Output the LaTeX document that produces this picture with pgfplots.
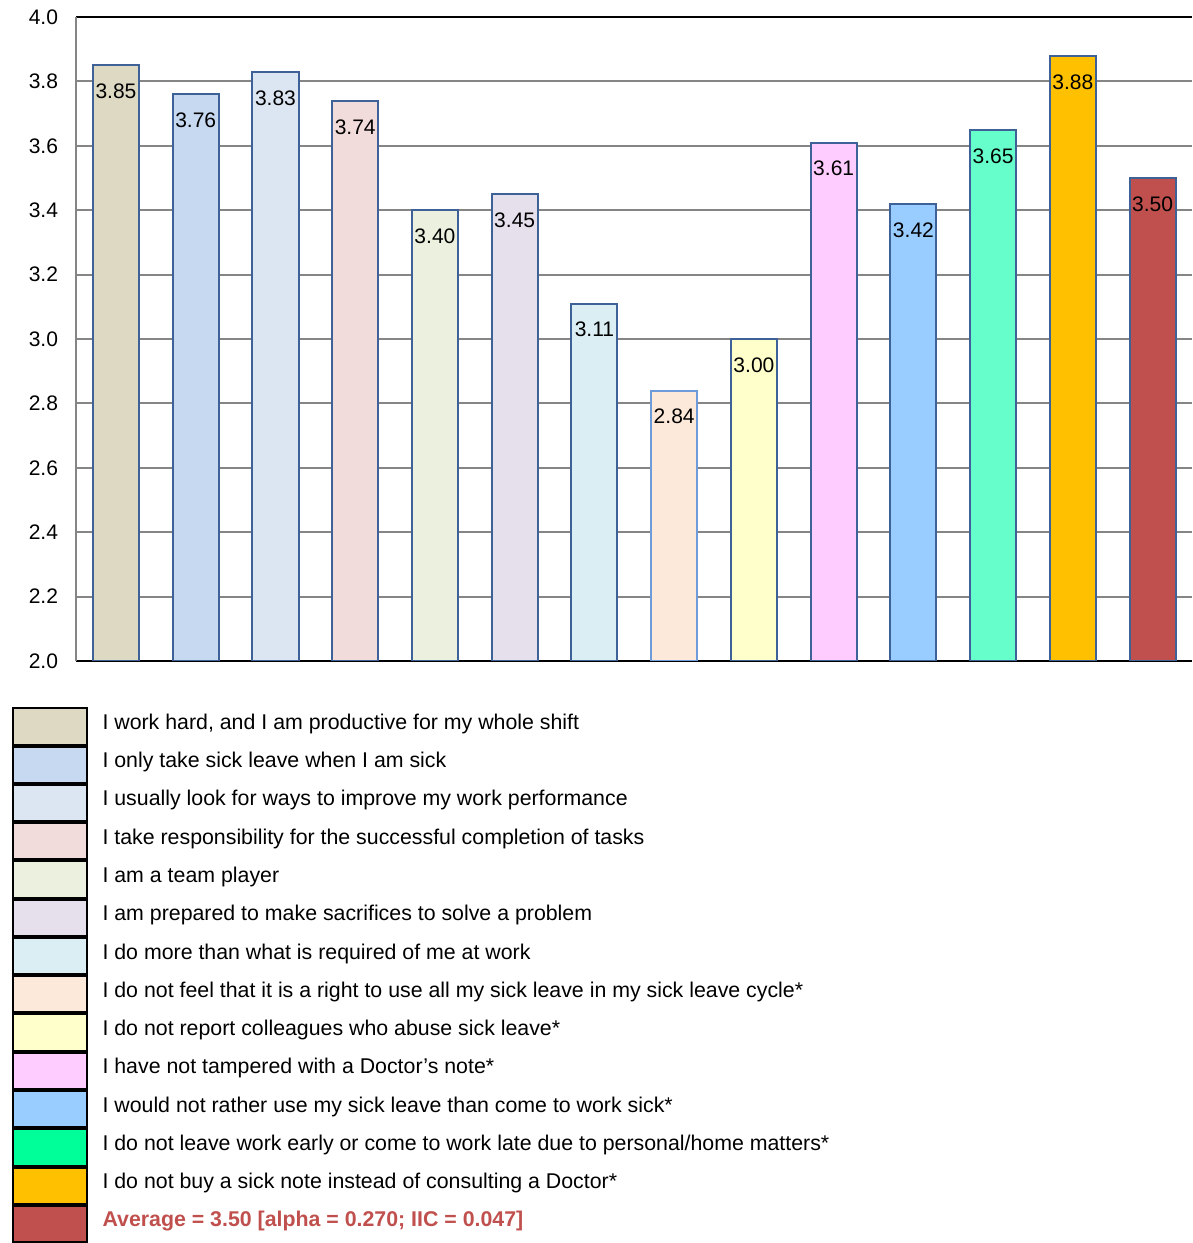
\documentclass[border=0pt]{standalone}
\usepackage{pgfplots}
\pgfplotsset{compat=1.18}
\usepackage{fontspec}
\setmainfont{Liberation Sans}
\definecolor{c1}{HTML}{DDD9C3}
\definecolor{c2}{HTML}{C6D9F1}
\definecolor{c3}{HTML}{DCE6F2}
\definecolor{c4}{HTML}{F2DCDB}
\definecolor{c5}{HTML}{EBF1DE}
\definecolor{c6}{HTML}{E6E0EC}
\definecolor{c7}{HTML}{DBEEF4}
\definecolor{c8}{HTML}{FDE9D9}
\definecolor{c9}{HTML}{FFFFCC}
\definecolor{c10}{HTML}{FFCCFF}
\definecolor{c11}{HTML}{99CCFF}
\definecolor{c12}{HTML}{66FFCC}
\definecolor{c12b}{HTML}{00FF99}
\definecolor{c13}{HTML}{FFC000}
\definecolor{c14}{HTML}{C0504D}
\definecolor{barblue}{HTML}{3E6197}
\definecolor{barlight}{HTML}{6E9BDA}
\definecolor{gridgray}{HTML}{858585}
\begin{document}
\begin{tikzpicture}
\begin{axis}[
  scale only axis, width=557pt, height=321.5pt,
  xmin=-0.5, xmax=13.49, ymin=2, ymax=4,
  ytick={2,2.2,2.4,2.6,2.8,3,3.2,3.4,3.6,3.8,4},
  /pgf/number format/assume math mode=true,
  yticklabel style={/pgf/number format/fixed,/pgf/number format/fixed zerofill,/pgf/number format/precision=1, xshift=-5.5pt},
  tick label style={font=\fontsize{10.5}{12}\selectfont},
  xtick=\empty,
  extra x ticks={-0.5}, extra x tick labels={},
  extra x tick style={grid=major, major grid style={gridgray, line width=1pt}},
  ymajorgrids, major grid style={gridgray, line width=1pt},
  major tick length=0pt,
  separate axis lines,
  x axis line style={black, line width=1pt},
  y axis line style={draw=none},
  ybar, bar width=23pt, bar shift=0pt,
  every axis plot/.append style={draw=barblue, line width=1pt},
  nodes near coords,
  nodes near coords style={font=\fontsize{10.5}{12}\selectfont, black, anchor=north, yshift=-5.5pt,
     /pgf/number format/fixed, /pgf/number format/fixed zerofill, /pgf/number format/precision=2},
  legend style={at={(0,0)}, anchor=north west, xshift=-32pt, yshift=-23pt,
     draw=none, fill=none, inner sep=0pt, row sep=0pt, column sep=7.5pt,
     font=\fontsize{10.65}{12}\selectfont,
     nodes={inner sep=0pt, text height=11pt, text depth=8.1pt, anchor=base west}},
  legend cell align=left,
  legend image code/.code={\draw[#1, draw=black, line width=1pt] (0.5pt,-7.6pt) rectangle (37pt,10.5pt);},
]
\addplot[fill=c1] coordinates {(0,3.85)};
\addlegendentry{I work hard, and I am productive for my whole shift}
\addplot[fill=c2] coordinates {(1,3.76)};
\addlegendentry{I only take sick leave when I am sick}
\addplot[fill=c3] coordinates {(2,3.83)};
\addlegendentry{I usually look for ways to improve my work performance}
\addplot[fill=c4] coordinates {(3,3.74)};
\addlegendentry{I take responsibility for the successful completion of tasks}
\addplot[fill=c5] coordinates {(4,3.40)};
\addlegendentry{I am a team player}
\addplot[fill=c6] coordinates {(5,3.45)};
\addlegendentry{I am prepared to make sacrifices to solve a problem}
\addplot[fill=c7] coordinates {(6,3.11)};
\addlegendentry{I do more than what is required of me at work}
\addplot[fill=c8, draw=barlight] coordinates {(7,2.84)};
\addlegendentry{I do not feel that it is a right to use all my sick leave in my sick leave cycle*}
\addplot[fill=c9] coordinates {(8,3.00)};
\addlegendentry{I do not report colleagues who abuse sick leave*}
\addplot[fill=c10] coordinates {(9,3.61)};
\addlegendentry{I have not tampered with a Doctor’s note*}
\addplot[fill=c11] coordinates {(10,3.42)};
\addlegendentry{I would not rather use my sick leave than come to work sick*}
\addplot[fill=c12, legend image code/.code={\draw[fill=c12b, draw=black, line width=1pt] (0.5pt,-7.6pt) rectangle (37pt,10.5pt);}] coordinates {(11,3.65)};
\addlegendentry{I do not leave work early or come to work late due to personal/home matters*}
\addplot[fill=c13] coordinates {(12,3.88)};
\addlegendentry{I do not buy a sick note instead of consulting a Doctor*}
\addplot[fill=c14] coordinates {(13,3.50)};
\addlegendentry{\textcolor{c14}{\textbf{Average = 3.50 [alpha = 0.270; IIC = 0.047]}}}
\end{axis}
\path ([xshift=-38pt,yshift=8.5pt]current axis.north west);
\end{tikzpicture}
\end{document}
